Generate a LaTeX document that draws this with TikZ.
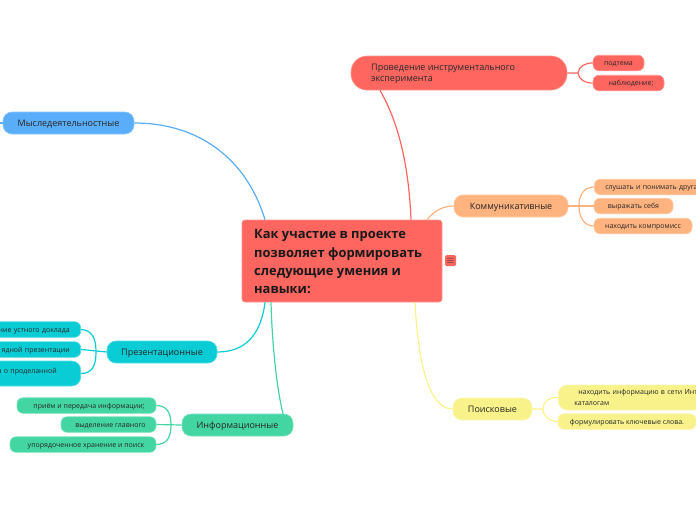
\documentclass[tikz,border=0pt]{standalone}
\usepackage{fontspec}
\setmainfont{Open Sans}
\definecolor{redc}{HTML}{FF6660}
\definecolor{bluec}{HTML}{5AADF8}
\definecolor{orangec}{HTML}{FFB37F}
\definecolor{yellowc}{HTML}{F9F28B}
\definecolor{cyanc}{HTML}{0ACCD5}
\definecolor{greenc}{HTML}{44D6A2}
\tikzset{
	topicbox/.style={fill=#1, draw=#1!70!white, line width=0.6pt, rounded corners=9pt, inner sep=0pt, minimum height=22pt, text=black!85, text height=7.5pt, text depth=0pt, font=\fontsize{9}{11}\selectfont},
	subbox/.style={fill=#1, draw=#1!70!white, line width=0.6pt, rounded corners=6pt, inner sep=0pt, minimum height=15.5pt, text=black!85, text height=5.6pt, text depth=0pt, font=\fontsize{7}{11}\selectfont},
	blockbox/.style={fill=#1, draw=#1!70!white, line width=0.6pt, rounded corners=9pt, inner sep=0pt, minimum height=25pt, text=black!85, font=\fontsize{7}{11.2}\selectfont},
	link/.style={draw=#1, line width=1.2pt}
}
\begin{document}
\begin{tikzpicture}[x=1pt, y=-1pt]
	\useasboundingbox (0,0) rectangle (696,520);
	\coordinate (leftstub) at (-2,123);
	\coordinate (redfork) at (578,73);
	\coordinate (orangefork) at (579,206);
	\coordinate (yellowfork) at (543,409);
	\coordinate (cyanfork) at (96,352);
	\coordinate (greenfork) at (171,425);

	\node [fill=redc, draw=redc!70!white, line width=0.6pt, rounded corners=3pt, minimum width=200pt, minimum height=82pt, inner sep=0pt] (main) at (342,261) {};
	\node [anchor=north west, inner sep=0pt, align=left, text=black!90, font=\fontsize{12.9}{18.3}\selectfont\bfseries] (maintext) at (254,229.5) {Как участие в проекте\\позволяет формировать\\следующие умения и\\навыки:};
	\node [fill=redc, rounded corners=1.5pt, minimum width=11pt, minimum height=11pt, inner sep=0pt, font=\fontsize{11}{11}\selectfont, text=black!85] (menu) at (450.5,260.5) {\(\equiv\)};

	\node [topicbox=redc, minimum width=216pt, minimum height=34pt, rounded corners=16pt] (instrument) at (459,73) {};
	\node [anchor=west, inner sep=0pt, align=left, text=black!85, font=\fontsize{9}{11.6}\selectfont] (instrumenttext) at (371,74) {Проведение инструментального\\эксперимента};
	\node [subbox=redc, minimum width=51pt] (subtopic) at (618.5,63) {подтема};
	\node [subbox=redc, minimum width=71pt] (observe) at (628.5,83) {\hspace*{5pt}наблюдение;};

	\node [topicbox=orangec, minimum width=114pt] (commun) at (511,206) {Коммуникативные};
	\node [subbox=orangec, minimum width=112pt, anchor=west, text width=98pt, align=left] (listen) at (594,187) {\hspace*{4pt}слушать и понимать друга};
	\node [subbox=orangec, minimum width=79pt] (express) at (633.5,206) {выражать себя};
	\node [subbox=orangec, minimum width=98pt] (compromise) at (643,226) {находить компромисс};

	\node [topicbox=yellowc, minimum width=79pt] (search) at (492.5,409) {Поисковые};
	\node [blockbox=yellowc, minimum width=172pt, anchor=west, text width=140pt, align=left] (findinfo) at (558,397.5) {\hspace*{4pt}находить информацию в сети Инт\\каталогам};
	\node [subbox=yellowc, minimum width=138pt] (keywords) at (627,421.5) {формулировать ключевые слова.};

	\node [topicbox=bluec, minimum width=131pt] (mental) at (68.5,123) {Мыследеятельностные};

	\node [topicbox=cyanc, minimum width=110pt] (present) at (162,352) {Презентационные};
	\node [subbox=cyanc, minimum width=120pt, anchor=east, text width=98pt, align=right] (oral) at (81,329.5) {ние устного доклада};
	\node [subbox=cyanc, minimum width=120pt, anchor=east, text width=98pt, align=right] (visual) at (81,349.5) {ядной презентации};
	\node [blockbox=cyanc, minimum width=120pt, anchor=east, text width=98pt, align=right] (report) at (81,373.5) {\raisebox{4.5pt}{а о проделанной}\hspace*{13pt}};

	\node [topicbox=greenc, minimum width=111pt] (inform) at (237.5,425) {Информационные};
	\node [subbox=greenc, minimum width=139pt] (receive) at (86.5,405.5) {\hspace*{5pt}приём и передача информации;};
	\node [subbox=greenc, minimum width=95pt] (mainpart) at (108.5,424.5) {\hspace*{4pt}выделение главного};
	\node [subbox=greenc, minimum width=146pt] (store) at (83,444.5) {\hspace*{6pt}упорядоченное хранение и поиск};

	\draw [link=redc] ([xshift=69pt]main.north) .. controls (409,170) and (400,125) .. ([xshift=-79pt]instrument.south);
	\draw [link=bluec] (mental.east) .. controls (200,123) and (247,160) .. ([xshift=-77pt]main.north);
	\draw [link=orangec] ([xshift=85pt]main.north) .. controls (434,211) and (443,206) .. (commun.west);
	\draw [link=yellowc] ([xshift=73pt]main.south) .. controls (418,360) and (428,409) .. (search.west);
	\draw [link=cyanc] (present.east) .. controls (245,352) and (261,335) .. ([xshift=-77pt]main.south);
	\draw [link=greenc] ([xshift=-71pt]main.south) .. controls (272,340) and (276,385) .. ([xshift=45.5pt]inform.north);

	\draw [link=redc] (instrument.east) -- (redfork) .. controls (579,66) and (585,63) .. (subtopic.west);
	\draw [link=redc] (redfork) .. controls (579,80) and (585,83) .. (observe.west);

	\draw [link=orangec] (commun.east) -- (express.west);
	\draw [link=orangec] (orangefork) .. controls (579,195) and (584,187) .. (listen.west);
	\draw [link=orangec] (orangefork) .. controls (579,217) and (584,226) .. (compromise.west);

	\draw [link=yellowc] (search.east) -- (yellowfork) .. controls (543,402) and (549,397) .. (findinfo.west);
	\draw [link=yellowc] (yellowfork) .. controls (543,416) and (549,421.5) .. (keywords.west);

	\draw [link=bluec] (leftstub) -- (mental.west);

	\draw [link=cyanc] (present.west) -- (visual.east);
	\draw [link=cyanc] (cyanfork) .. controls (96,338) and (92,330) .. (oral.east);
	\draw [link=cyanc] (cyanfork) .. controls (96,366) and (92,373.5) .. (report.east);

	\draw [link=greenc] (inform.west) -- (mainpart.east);
	\draw [link=greenc] (greenfork) .. controls (171,413) and (167,405.5) .. (receive.east);
	\draw [link=greenc] (greenfork) .. controls (171,437) and (167,444.5) .. (store.east);
\end{tikzpicture}
\end{document}
